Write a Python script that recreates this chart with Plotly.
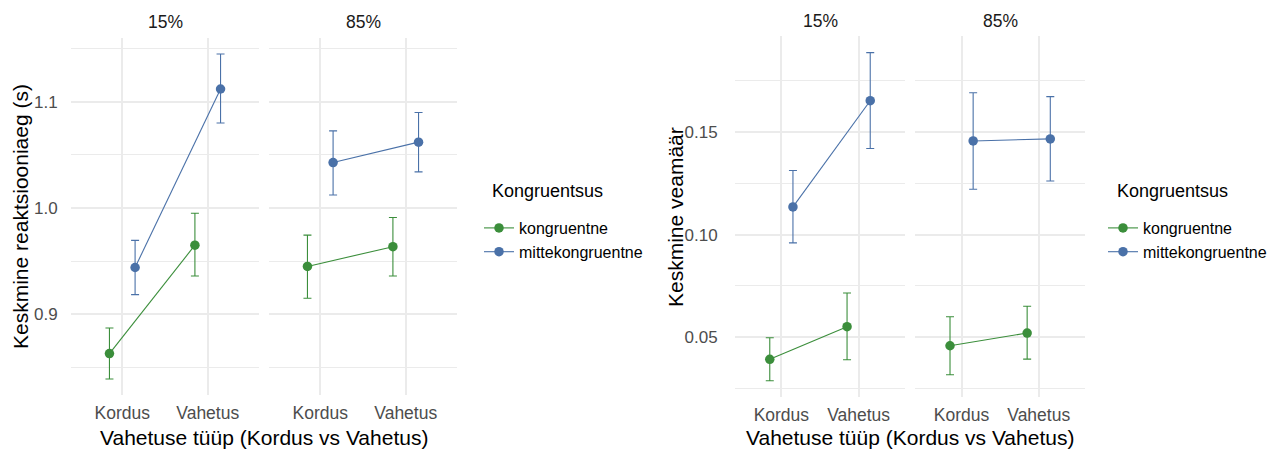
import plotly.graph_objects as go

# --- data -------------------------------------------------------------
categories = ["Kordus", "Vahetus"]
facets = ["15%", "85%"]
groups = ["kongruentne", "mittekongruentne"]

# mean reaction time (s) with CI bounds
rt_15_kong = [0.863, 0.965]
rt_15_kong_lo = [0.839, 0.936]
rt_15_kong_hi = [0.887, 0.995]
rt_15_mitte = [0.944, 1.112]
rt_15_mitte_lo = [0.9185, 1.080]
rt_15_mitte_hi = [0.9695, 1.145]
rt_85_kong = [0.945, 0.9636]
rt_85_kong_lo = [0.915, 0.936]
rt_85_kong_hi = [0.9745, 0.991]
rt_85_mitte = [1.0428, 1.062]
rt_85_mitte_lo = [1.0123, 1.034]
rt_85_mitte_hi = [1.0726, 1.0899]

# mean error rate with CI bounds
err_15_kong = [0.0393, 0.0552]
err_15_kong_lo = [0.0289, 0.0391]
err_15_kong_hi = [0.0498, 0.0716]
err_15_mitte = [0.1135, 0.1652]
err_15_mitte_lo = [0.0960, 0.1419]
err_15_mitte_hi = [0.1312, 0.1886]
err_85_kong = [0.0459, 0.0521]
err_85_kong_lo = [0.0318, 0.0394]
err_85_kong_hi = [0.0600, 0.0651]
err_85_mitte = [0.1456, 0.1466]
err_85_mitte_lo = [0.1221, 0.1261]
err_85_mitte_hi = [0.1691, 0.1672]

rt_ticks = [0.9, 1.0, 1.1]
rt_tick_labels = ["0.9", "1.0", "1.1"]
rt_minor = [0.85, 0.95, 1.05, 1.15]
err_ticks = [0.05, 0.10, 0.15]
err_tick_labels = ["0.05", "0.10", "0.15"]
err_minor = [0.025, 0.075, 0.125, 0.175]

# --- styling ----------------------------------------------------------
W, H = 1275, 450
FONT = "Liberation Sans, Arial, sans-serif"
COLORS = {"kongruentne": "#3B8E3B", "mittekongruentne": "#4A71A8"}
DODGE = {"kongruentne": -0.15, "mittekongruentne": 0.15}
GRID = "#EBEBEB"
TICK_COLOR = "#4D4D4D"


def fx(px):
    return px / W


def fy(px_from_top):
    return 1 - px_from_top / H


fig = go.Figure()

panels = [
    # (xaxis, yaxis, legend, showlegend, series)
    ("x", "y", "legend", True, [
        ("kongruentne", rt_15_kong, rt_15_kong_lo, rt_15_kong_hi),
        ("mittekongruentne", rt_15_mitte, rt_15_mitte_lo, rt_15_mitte_hi)]),
    ("x2", "y2", "legend", False, [
        ("kongruentne", rt_85_kong, rt_85_kong_lo, rt_85_kong_hi),
        ("mittekongruentne", rt_85_mitte, rt_85_mitte_lo, rt_85_mitte_hi)]),
    ("x3", "y3", "legend2", True, [
        ("kongruentne", err_15_kong, err_15_kong_lo, err_15_kong_hi),
        ("mittekongruentne", err_15_mitte, err_15_mitte_lo, err_15_mitte_hi)]),
    ("x4", "y4", "legend2", False, [
        ("kongruentne", err_85_kong, err_85_kong_lo, err_85_kong_hi),
        ("mittekongruentne", err_85_mitte, err_85_mitte_lo, err_85_mitte_hi)]),
]

for xa, ya, leg, show, series in panels:
    for name, mean, lo, hi in series:
        xs = [i + 1 + DODGE[name] for i in range(len(categories))]
        fig.add_trace(go.Scatter(
            x=xs, y=mean, name=name, mode="lines+markers",
            xaxis=xa, yaxis=ya, legend=leg, showlegend=show,
            line=dict(color=COLORS[name], width=1.1),
            marker=dict(color=COLORS[name], size=9.5),
            error_y=dict(type="data", symmetric=False,
                         array=[h - m for h, m in zip(hi, mean)],
                         arrayminus=[m - l for m, l in zip(mean, lo)],
                         color=COLORS[name], thickness=1.1, width=4),
            hoverinfo="skip",
        ))

x_common = dict(range=[0.4, 2.6], tickvals=[1, 2], ticktext=categories,
                showgrid=True, gridcolor=GRID, gridwidth=1.5, zeroline=False,
                showline=False, ticks="outside", ticklen=0,
                ticklabelstandoff=2, fixedrange=True,
                tickfont=dict(family=FONT, size=17.5, color=TICK_COLOR))

left_y_dom = [fy(395), fy(38)]
right_y_dom = [fy(396.7), fy(36)]


def y_axis(rng, ticks, labels, minor, dom, show_labels, standoff, anchor):
    return dict(range=rng, tickvals=ticks, ticktext=labels, domain=dom,
                anchor=anchor, showgrid=True, gridcolor=GRID, gridwidth=1.5,
                zeroline=False, showline=False, ticks="outside", ticklen=0,
                showticklabels=show_labels, ticklabelstandoff=standoff,
                fixedrange=True,
                minor=dict(tickvals=minor, showgrid=True, gridcolor=GRID,
                           gridwidth=0.8, ticks=""),
                tickfont=dict(family=FONT, size=17, color=TICK_COLOR))


fig.update_layout(
    width=W, height=H,
    margin=dict(l=0, r=0, t=0, b=0),
    paper_bgcolor="white", plot_bgcolor="white",
    font=dict(family=FONT, color="black"),
    xaxis=dict(x_common, domain=[fx(71), fx(259)], anchor="y"),
    xaxis2=dict(x_common, domain=[fx(269), fx(457)], anchor="y2"),
    xaxis3=dict(x_common, domain=[fx(735), fx(905)], anchor="y3"),
    xaxis4=dict(x_common, domain=[fx(915.3), fx(1085)], anchor="y4"),
    yaxis=y_axis([0.824, 1.160], rt_ticks, rt_tick_labels, rt_minor,
                 left_y_dom, True, 9, "x"),
    yaxis2=y_axis([0.824, 1.160], rt_ticks, rt_tick_labels, rt_minor,
                  left_y_dom, False, 9, "x2"),
    yaxis3=y_axis([0.0211, 0.1967], err_ticks, err_tick_labels, err_minor,
                  right_y_dom, True, 13, "x3"),
    yaxis4=y_axis([0.0211, 0.1967], err_ticks, err_tick_labels, err_minor,
                  right_y_dom, False, 13, "x4"),
    legend=dict(x=fx(479), y=fy(211), xanchor="left", yanchor="top",
                bgcolor="rgba(0,0,0,0)", itemwidth=30, tracegroupgap=0,
                font=dict(family=FONT, size=16, color="black")),
    legend2=dict(x=fx(1103), y=fy(211), xanchor="left", yanchor="top",
                 bgcolor="rgba(0,0,0,0)", itemwidth=30, tracegroupgap=0,
                 font=dict(family=FONT, size=16, color="black")),
)

annotations = []
# facet strip titles
strip_pos = [((71 + 259) / 2, 22, facets[0]), ((269 + 457) / 2, 22, facets[1]),
             ((735 + 905) / 2, 21, facets[0]), ((915.3 + 1085) / 2, 21, facets[1])]
for cx, cy, txt in strip_pos:
    annotations.append(dict(x=fx(cx), y=fy(cy), xref="paper", yref="paper",
                            text=txt, showarrow=False, xanchor="center",
                            yanchor="middle",
                            font=dict(family=FONT, size=17.5, color="#1A1A1A")))

# axis titles
for cx, cy, txt, ang in [
    (264, 437, "Vahetuse tüüp (Kordus vs Vahetus)", 0),
    (910, 437, "Vahetuse tüüp (Kordus vs Vahetus)", 0),
    (20, 217, "Keskmine reaktsiooniaeg (s)", -90),
    (675, 217, "Keskmine veamäär", -90),
]:
    annotations.append(dict(x=fx(cx), y=fy(cy), xref="paper", yref="paper",
                            text=txt, showarrow=False, textangle=ang,
                            xanchor="center", yanchor="middle",
                            font=dict(family=FONT, size=21, color="black")))

# legend titles
for lx in (490, 1115):
    annotations.append(dict(x=fx(lx), y=fy(191), xref="paper", yref="paper",
                            text="Kongruentsus", showarrow=False,
                            xanchor="left", yanchor="middle",
                            font=dict(family=FONT, size=18, color="black")))

fig.update_layout(annotations=annotations)

fig.write_html("out.html")
